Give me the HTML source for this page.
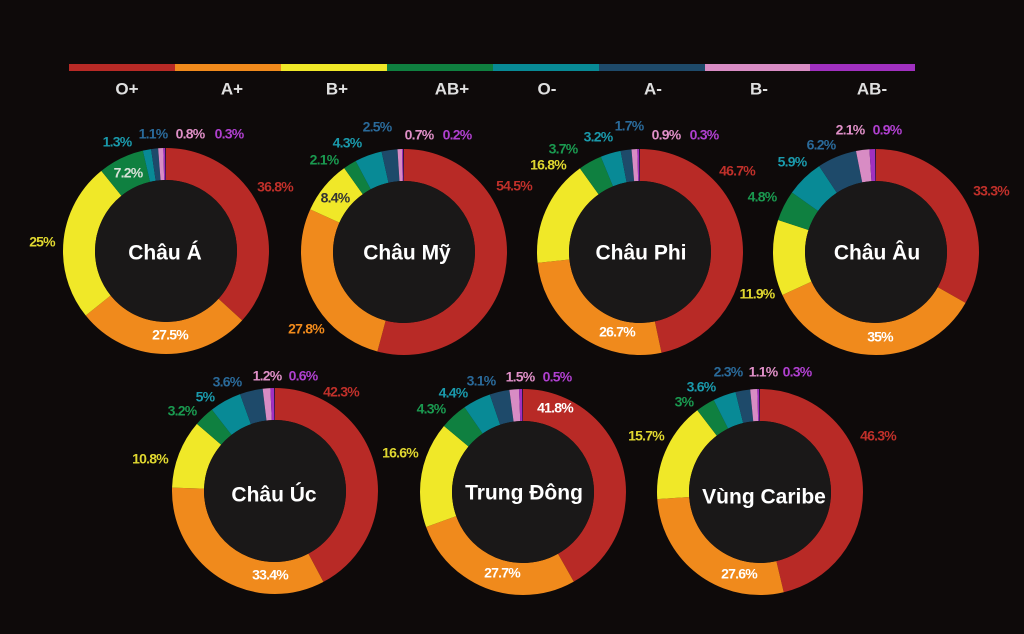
<!DOCTYPE html>
<html><head><meta charset="utf-8"><style>
html,body{margin:0;padding:0;background:#0e0a0a;}
svg{display:block;}
text{font-family:"Liberation Sans",sans-serif;font-weight:bold;}
.l{font-size:14px;letter-spacing:-0.8px;text-anchor:middle;dominant-baseline:middle;}
.c{font-size:21px;fill:#fff;text-anchor:middle;dominant-baseline:middle;font-weight:600;}
.g{font-size:17px;fill:#e0e0e0;text-anchor:middle;dominant-baseline:middle;}
</style></head><body>
<svg width="1024" height="634" viewBox="0 0 1024 634" xmlns="http://www.w3.org/2000/svg">
<rect width="1024" height="634" fill="#0e0a0a"/>
<g>
<rect x="69" y="64" width="106" height="7" fill="#b82a26"/>
<rect x="175" y="64" width="106" height="7" fill="#f08a1c"/>
<rect x="281" y="64" width="106" height="7" fill="#f0e828"/>
<rect x="387" y="64" width="106" height="7" fill="#0f8040"/>
<rect x="493" y="64" width="106" height="7" fill="#088a96"/>
<rect x="599" y="64" width="106" height="7" fill="#1e4a6a"/>
<rect x="705" y="64" width="105" height="7" fill="#d88cc4"/>
<rect x="810" y="64" width="105" height="7" fill="#a030c0"/>
</g>
<text class="g" x="127" y="90">O+</text>
<text class="g" x="232" y="90">A+</text>
<text class="g" x="337" y="90">B+</text>
<text class="g" x="452" y="90">AB+</text>
<text class="g" x="547" y="90">O-</text>
<text class="g" x="653" y="90">A-</text>
<text class="g" x="759" y="90">B-</text>
<text class="g" x="872" y="90">AB-</text>

<!-- Châu Á -->
<g transform="rotate(-90 166 251)" fill="none" stroke-width="32">
<circle cx="166" cy="251" r="87" pathLength="100" stroke="#b82a26" stroke-dasharray="36.8 200" stroke-dashoffset="0"/>
<circle cx="166" cy="251" r="87" pathLength="100" stroke="#f08a1c" stroke-dasharray="27.5 200" stroke-dashoffset="-36.8"/>
<circle cx="166" cy="251" r="87" pathLength="100" stroke="#f0e828" stroke-dasharray="25 200" stroke-dashoffset="-64.3"/>
<circle cx="166" cy="251" r="87" pathLength="100" stroke="#0f8040" stroke-dasharray="7.2 200" stroke-dashoffset="-89.3"/>
<circle cx="166" cy="251" r="87" pathLength="100" stroke="#088a96" stroke-dasharray="1.3 200" stroke-dashoffset="-96.5"/>
<circle cx="166" cy="251" r="87" pathLength="100" stroke="#1e4a6a" stroke-dasharray="1.1 200" stroke-dashoffset="-97.8"/>
<circle cx="166" cy="251" r="87" pathLength="100" stroke="#d88cc4" stroke-dasharray="0.8 200" stroke-dashoffset="-98.9"/>
<circle cx="166" cy="251" r="87" pathLength="100" stroke="#a030c0" stroke-dasharray="0.3 200" stroke-dashoffset="-99.7"/>
</g>
<circle cx="166" cy="251" r="71" fill="#1a1818"/>
<text class="c" x="165" y="254">Châu Á</text>

<!-- Châu Mỹ -->
<g transform="rotate(-90 404 252)" fill="none" stroke-width="32">
<circle cx="404" cy="252" r="87" pathLength="100.5" stroke="#b82a26" stroke-dasharray="54.5 200" stroke-dashoffset="0"/>
<circle cx="404" cy="252" r="87" pathLength="100.5" stroke="#f08a1c" stroke-dasharray="27.8 200" stroke-dashoffset="-54.5"/>
<circle cx="404" cy="252" r="87" pathLength="100.5" stroke="#f0e828" stroke-dasharray="8.4 200" stroke-dashoffset="-82.3"/>
<circle cx="404" cy="252" r="87" pathLength="100.5" stroke="#0f8040" stroke-dasharray="2.1 200" stroke-dashoffset="-90.7"/>
<circle cx="404" cy="252" r="87" pathLength="100.5" stroke="#088a96" stroke-dasharray="4.3 200" stroke-dashoffset="-92.8"/>
<circle cx="404" cy="252" r="87" pathLength="100.5" stroke="#1e4a6a" stroke-dasharray="2.5 200" stroke-dashoffset="-97.1"/>
<circle cx="404" cy="252" r="87" pathLength="100.5" stroke="#d88cc4" stroke-dasharray="0.7 200" stroke-dashoffset="-99.6"/>
<circle cx="404" cy="252" r="87" pathLength="100.5" stroke="#a030c0" stroke-dasharray="0.2 200" stroke-dashoffset="-100.3"/>
</g>
<circle cx="404" cy="252" r="71" fill="#1a1818"/>
<text class="c" x="407" y="254">Châu Mỹ</text>

<!-- Châu Phi -->
<g transform="rotate(-90 640 252)" fill="none" stroke-width="32">
<circle cx="640" cy="252" r="87" pathLength="100" stroke="#b82a26" stroke-dasharray="46.7 200" stroke-dashoffset="0"/>
<circle cx="640" cy="252" r="87" pathLength="100" stroke="#f08a1c" stroke-dasharray="26.7 200" stroke-dashoffset="-46.7"/>
<circle cx="640" cy="252" r="87" pathLength="100" stroke="#f0e828" stroke-dasharray="16.8 200" stroke-dashoffset="-73.4"/>
<circle cx="640" cy="252" r="87" pathLength="100" stroke="#0f8040" stroke-dasharray="3.7 200" stroke-dashoffset="-90.2"/>
<circle cx="640" cy="252" r="87" pathLength="100" stroke="#088a96" stroke-dasharray="3.2 200" stroke-dashoffset="-93.9"/>
<circle cx="640" cy="252" r="87" pathLength="100" stroke="#1e4a6a" stroke-dasharray="1.7 200" stroke-dashoffset="-97.1"/>
<circle cx="640" cy="252" r="87" pathLength="100" stroke="#d88cc4" stroke-dasharray="0.9 200" stroke-dashoffset="-98.8"/>
<circle cx="640" cy="252" r="87" pathLength="100" stroke="#a030c0" stroke-dasharray="0.3 200" stroke-dashoffset="-99.7"/>
</g>
<circle cx="640" cy="252" r="71" fill="#1a1818"/>
<text class="c" x="641" y="254">Châu Phi</text>

<!-- Châu Âu -->
<g transform="rotate(-90 876 252)" fill="none" stroke-width="32">
<circle cx="876" cy="252" r="87" pathLength="100.1" stroke="#b82a26" stroke-dasharray="33.3 200" stroke-dashoffset="0"/>
<circle cx="876" cy="252" r="87" pathLength="100.1" stroke="#f08a1c" stroke-dasharray="35 200" stroke-dashoffset="-33.3"/>
<circle cx="876" cy="252" r="87" pathLength="100.1" stroke="#f0e828" stroke-dasharray="11.9 200" stroke-dashoffset="-68.3"/>
<circle cx="876" cy="252" r="87" pathLength="100.1" stroke="#0f8040" stroke-dasharray="4.8 200" stroke-dashoffset="-80.2"/>
<circle cx="876" cy="252" r="87" pathLength="100.1" stroke="#088a96" stroke-dasharray="5.9 200" stroke-dashoffset="-85"/>
<circle cx="876" cy="252" r="87" pathLength="100.1" stroke="#1e4a6a" stroke-dasharray="6.2 200" stroke-dashoffset="-90.9"/>
<circle cx="876" cy="252" r="87" pathLength="100.1" stroke="#d88cc4" stroke-dasharray="2.1 200" stroke-dashoffset="-97.1"/>
<circle cx="876" cy="252" r="87" pathLength="100.1" stroke="#a030c0" stroke-dasharray="0.9 200" stroke-dashoffset="-99.2"/>
</g>
<circle cx="876" cy="252" r="71" fill="#1a1818"/>
<text class="c" x="877" y="254">Châu Âu</text>

<!-- Châu Úc -->
<g transform="rotate(-90 275 491)" fill="none" stroke-width="32">
<circle cx="275" cy="491" r="87" pathLength="100.1" stroke="#b82a26" stroke-dasharray="42.3 200" stroke-dashoffset="0"/>
<circle cx="275" cy="491" r="87" pathLength="100.1" stroke="#f08a1c" stroke-dasharray="33.4 200" stroke-dashoffset="-42.3"/>
<circle cx="275" cy="491" r="87" pathLength="100.1" stroke="#f0e828" stroke-dasharray="10.8 200" stroke-dashoffset="-75.7"/>
<circle cx="275" cy="491" r="87" pathLength="100.1" stroke="#0f8040" stroke-dasharray="3.2 200" stroke-dashoffset="-86.5"/>
<circle cx="275" cy="491" r="87" pathLength="100.1" stroke="#088a96" stroke-dasharray="5 200" stroke-dashoffset="-89.7"/>
<circle cx="275" cy="491" r="87" pathLength="100.1" stroke="#1e4a6a" stroke-dasharray="3.6 200" stroke-dashoffset="-94.7"/>
<circle cx="275" cy="491" r="87" pathLength="100.1" stroke="#d88cc4" stroke-dasharray="1.2 200" stroke-dashoffset="-98.3"/>
<circle cx="275" cy="491" r="87" pathLength="100.1" stroke="#a030c0" stroke-dasharray="0.6 200" stroke-dashoffset="-99.5"/>
</g>
<circle cx="275" cy="491" r="71" fill="#1a1818"/>
<text class="c" x="274" y="496">Châu Úc</text>

<!-- Trung Đông -->
<g transform="rotate(-90 523 492)" fill="none" stroke-width="32">
<circle cx="523" cy="492" r="87" pathLength="99.9" stroke="#b82a26" stroke-dasharray="41.8 200" stroke-dashoffset="0"/>
<circle cx="523" cy="492" r="87" pathLength="99.9" stroke="#f08a1c" stroke-dasharray="27.7 200" stroke-dashoffset="-41.8"/>
<circle cx="523" cy="492" r="87" pathLength="99.9" stroke="#f0e828" stroke-dasharray="16.6 200" stroke-dashoffset="-69.5"/>
<circle cx="523" cy="492" r="87" pathLength="99.9" stroke="#0f8040" stroke-dasharray="4.3 200" stroke-dashoffset="-86.1"/>
<circle cx="523" cy="492" r="87" pathLength="99.9" stroke="#088a96" stroke-dasharray="4.4 200" stroke-dashoffset="-90.4"/>
<circle cx="523" cy="492" r="87" pathLength="99.9" stroke="#1e4a6a" stroke-dasharray="3.1 200" stroke-dashoffset="-94.8"/>
<circle cx="523" cy="492" r="87" pathLength="99.9" stroke="#d88cc4" stroke-dasharray="1.5 200" stroke-dashoffset="-97.9"/>
<circle cx="523" cy="492" r="87" pathLength="99.9" stroke="#a030c0" stroke-dasharray="0.5 200" stroke-dashoffset="-99.4"/>
</g>
<circle cx="523" cy="492" r="71" fill="#1a1818"/>
<text class="c" x="524" y="494">Trung Đông</text>

<!-- Vùng Caribe -->
<g transform="rotate(-90 760 492)" fill="none" stroke-width="32">
<circle cx="760" cy="492" r="87" pathLength="99.9" stroke="#b82a26" stroke-dasharray="46.3 200" stroke-dashoffset="0"/>
<circle cx="760" cy="492" r="87" pathLength="99.9" stroke="#f08a1c" stroke-dasharray="27.6 200" stroke-dashoffset="-46.3"/>
<circle cx="760" cy="492" r="87" pathLength="99.9" stroke="#f0e828" stroke-dasharray="15.7 200" stroke-dashoffset="-73.9"/>
<circle cx="760" cy="492" r="87" pathLength="99.9" stroke="#0f8040" stroke-dasharray="3 200" stroke-dashoffset="-89.6"/>
<circle cx="760" cy="492" r="87" pathLength="99.9" stroke="#088a96" stroke-dasharray="3.6 200" stroke-dashoffset="-92.6"/>
<circle cx="760" cy="492" r="87" pathLength="99.9" stroke="#1e4a6a" stroke-dasharray="2.3 200" stroke-dashoffset="-96.2"/>
<circle cx="760" cy="492" r="87" pathLength="99.9" stroke="#d88cc4" stroke-dasharray="1.1 200" stroke-dashoffset="-98.5"/>
<circle cx="760" cy="492" r="87" pathLength="99.9" stroke="#a030c0" stroke-dasharray="0.3 200" stroke-dashoffset="-99.6"/>
</g>
<circle cx="760" cy="492" r="71" fill="#1a1818"/>
<text class="c" x="764" y="498">Vùng Caribe</text>

<!-- labels -->
<g>
<text class="l" x="117" y="143" fill="#1a9aac">1.3%</text>
<text class="l" x="153" y="135" fill="#2a6a9a">1.1%</text>
<text class="l" x="190" y="135" fill="#e090c8">0.8%</text>
<text class="l" x="229" y="135" fill="#b040d0">0.3%</text>
<text class="l" x="128" y="174" fill="#d8e0d8">7.2%</text>
<text class="l" x="275" y="188" fill="#c0302a">36.8%</text>
<text class="l" x="42" y="243" fill="#e0d830">25%</text>
<text class="l" x="170" y="336" fill="#ffffff">27.5%</text>

<text class="l" x="377" y="128" fill="#2a6a9a">2.5%</text>
<text class="l" x="347" y="144" fill="#1a9aac">4.3%</text>
<text class="l" x="324" y="161" fill="#1a9a50">2.1%</text>
<text class="l" x="419" y="136" fill="#e090c8">0.7%</text>
<text class="l" x="457" y="136" fill="#b040d0">0.2%</text>
<text class="l" x="514" y="187" fill="#c0302a">54.5%</text>
<text class="l" x="335" y="199" fill="#333">8.4%</text>
<text class="l" x="306" y="330" fill="#f08a1c">27.8%</text>

<text class="l" x="629" y="127" fill="#2a6a9a">1.7%</text>
<text class="l" x="598" y="138" fill="#1a9aac">3.2%</text>
<text class="l" x="563" y="150" fill="#1a9a50">3.7%</text>
<text class="l" x="548" y="166" fill="#e0d830">16.8%</text>
<text class="l" x="666" y="136" fill="#e090c8">0.9%</text>
<text class="l" x="704" y="136" fill="#b040d0">0.3%</text>
<text class="l" x="737" y="172" fill="#c0302a">46.7%</text>
<text class="l" x="617" y="333" fill="#ffffff">26.7%</text>

<text class="l" x="757" y="295" fill="#e0d830">11.9%</text>
<text class="l" x="850" y="131" fill="#e090c8">2.1%</text>
<text class="l" x="887" y="131" fill="#b040d0">0.9%</text>
<text class="l" x="821" y="146" fill="#2a6a9a">6.2%</text>
<text class="l" x="792" y="163" fill="#1a9aac">5.9%</text>
<text class="l" x="762" y="198" fill="#1a9a50">4.8%</text>
<text class="l" x="991" y="192" fill="#c0302a">33.3%</text>
<text class="l" x="880" y="338" fill="#ffffff">35%</text>

<text class="l" x="227" y="383" fill="#2a6a9a">3.6%</text>
<text class="l" x="267" y="377" fill="#e090c8">1.2%</text>
<text class="l" x="303" y="377" fill="#b040d0">0.6%</text>
<text class="l" x="341" y="393" fill="#c0302a">42.3%</text>
<text class="l" x="205" y="398" fill="#1a9aac">5%</text>
<text class="l" x="182" y="412" fill="#1a9a50">3.2%</text>
<text class="l" x="150" y="460" fill="#e0d830">10.8%</text>
<text class="l" x="270" y="576" fill="#ffffff">33.4%</text>

<text class="l" x="481" y="382" fill="#2a6a9a">3.1%</text>
<text class="l" x="520" y="378" fill="#e090c8">1.5%</text>
<text class="l" x="557" y="378" fill="#b040d0">0.5%</text>
<text class="l" x="453" y="394" fill="#1a9aac">4.4%</text>
<text class="l" x="431" y="410" fill="#1a9a50">4.3%</text>
<text class="l" x="555" y="409" fill="#ffffff">41.8%</text>
<text class="l" x="400" y="454" fill="#e0d830">16.6%</text>
<text class="l" x="502" y="574" fill="#ffffff">27.7%</text>

<text class="l" x="728" y="373" fill="#2a6a9a">2.3%</text>
<text class="l" x="763" y="373" fill="#e090c8">1.1%</text>
<text class="l" x="797" y="373" fill="#b040d0">0.3%</text>
<text class="l" x="701" y="388" fill="#1a9aac">3.6%</text>
<text class="l" x="684" y="403" fill="#1a9a50">3%</text>
<text class="l" x="646" y="437" fill="#e0d830">15.7%</text>
<text class="l" x="878" y="437" fill="#c0302a">46.3%</text>
<text class="l" x="739" y="575" fill="#ffffff">27.6%</text>
</g>
</svg>
</body></html>
